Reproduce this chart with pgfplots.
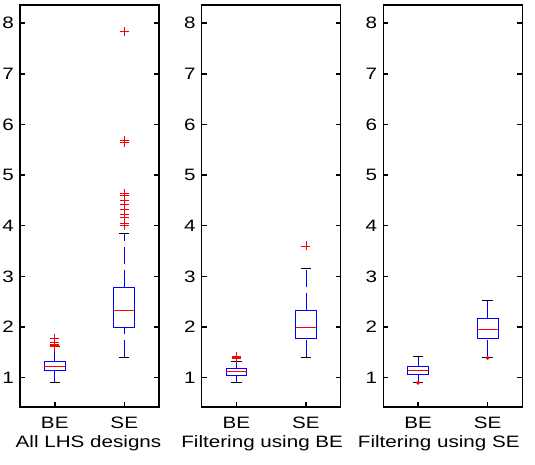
\documentclass[border=0pt]{standalone}
\usepackage{pgfplots}
\pgfplotsset{compat=1.18}
\usepgfplotslibrary{statistics}
\usepackage{fontspec}
\setmainfont{Liberation Sans}[FakeStretch=1.25]

\definecolor{mlblue}{RGB}{0,0,255}
\definecolor{mlred}{RGB}{255,0,0}

\pgfplotsset{
  panel/.style={
    anchor=south west,
    scale only axis,
    width=139pt, height=402pt,
    xmin=0.5, xmax=2.5, ymin=0.42, ymax=8.36,
    xtick={1,2}, xticklabels={BE,SE},
    ytick={1,2,...,8},
    xtick pos=left, ytick pos=both,
    tick align=inside,
    major tick length=5pt,
    axis line style={line width=1.5pt},
    every tick/.style={black, line width=1.5pt},
    /pgf/number format/assume math mode=true,
    tick label style={font=\fontsize{16.5}{19}\selectfont},
    xticklabel style={inner sep=0pt, anchor=north, yshift=-10pt},
    yticklabel style={inner sep=0pt, anchor=east, xshift=-6pt},
    xlabel style={font=\fontsize{16.5}{19}\selectfont, inner sep=0pt,
      at={(axis description cs:0.5,0)}, anchor=north, yshift=-28pt},
    clip=false,
  },
  % box-and-whisker look: blue box, red median, dashed blue stems, black caps
  mlbox/.style={
    mlblue, line width=0.8pt,
    boxplot/draw direction=y,
    boxplot/box extend=0.3,
    boxplot/whisker extend=0.15,
    boxplot/every box/.style={draw=mlblue, line width=0.8pt},
    boxplot/every median/.style={draw=mlred, line width=0.8pt},
    boxplot/draw/lower whisker/.code={%
      \draw[mlblue, line width=0.8pt, dash pattern=on 17pt off 6pt]
        (boxplot box cs:\pgfplotsboxplotvalue{lower whisker},0.5) --
        (boxplot box cs:\pgfplotsboxplotvalue{lower quartile},0.5);
      \draw[black, line width=0.8pt]
        (boxplot whisker cs:\pgfplotsboxplotvalue{lower whisker},0) --
        (boxplot whisker cs:\pgfplotsboxplotvalue{lower whisker},1);
    },
    boxplot/draw/upper whisker/.code={%
      \draw[mlblue, line width=0.8pt, dash pattern=on 17pt off 6pt]
        (boxplot box cs:\pgfplotsboxplotvalue{upper quartile},0.5) --
        (boxplot box cs:\pgfplotsboxplotvalue{upper whisker},0.5);
      \draw[black, line width=0.8pt]
        (boxplot whisker cs:\pgfplotsboxplotvalue{upper whisker},0) --
        (boxplot whisker cs:\pgfplotsboxplotvalue{upper whisker},1);
    },
    mark=+, mark size=4.5pt,
    mark options={mlred, solid, line width=0.8pt},
  },
  mldot/.style={mark=*, mark size=1.6pt, mark options={mlred, fill=mlred, solid}},
}

\begin{document}
\begin{tikzpicture}[x=1pt,y=1pt]
\useasboundingbox (0,0) rectangle (535,465);

% ---- All LHS designs ----
\begin{axis}[panel, at={(20pt,58pt)},
  xlabel={All LHS designs}, xlabel style={xshift=-1pt}]
\addplot[mlbox, boxplot prepared={draw position=1,
  lower whisker=0.90, lower quartile=1.15, median=1.22,
  upper quartile=1.32, upper whisker=1.61}]
  coordinates {(0,1.62) (0,1.64) (0,1.66) (0,1.69) (0,1.78)};
\addplot[mlbox, boxplot prepared={draw position=2,
  lower whisker=1.40, lower quartile=1.99, median=2.32,
  upper quartile=2.79, upper whisker=3.85}]
  coordinates {(0,4.01) (0,4.05) (0,4.17) (0,4.22) (0,4.33) (0,4.42)
               (0,4.50) (0,4.59) (0,4.64) (0,5.64) (0,5.68) (0,7.84)};
\end{axis}

% ---- Filtering using BE ----
\begin{axis}[panel, at={(201.7pt,58pt)},
  xlabel={Filtering using BE}, xlabel style={xshift=-9pt}]
\addplot[mlbox, boxplot prepared={draw position=1,
  lower whisker=0.90, lower quartile=1.05, median=1.13,
  upper quartile=1.185, upper whisker=1.32}]
  coordinates {(0,1.38) (0,1.40) (0,1.42)};
\addplot[mlbox, boxplot prepared={draw position=2,
  lower whisker=1.40, lower quartile=1.78, median=2.00,
  upper quartile=2.33, upper whisker=3.15}]
  coordinates {(0,3.60)};
\end{axis}

% ---- Filtering using SE ----
\begin{axis}[panel, at={(383.3pt,58pt)},
  xlabel={Filtering using SE}, xlabel style={xshift=-14pt}]
\addplot[mlbox, mldot, boxplot prepared={draw position=1,
  lower whisker=0.91, lower quartile=1.07, median=1.145,
  upper quartile=1.225, upper whisker=1.415}]
  coordinates {(0,0.90)};
\addplot[mlbox, mldot, boxplot prepared={draw position=2,
  lower whisker=1.40, lower quartile=1.77, median=1.96,
  upper quartile=2.17, upper whisker=2.52}]
  coordinates {(0,1.39)};
\end{axis}
\end{tikzpicture}
\end{document}
